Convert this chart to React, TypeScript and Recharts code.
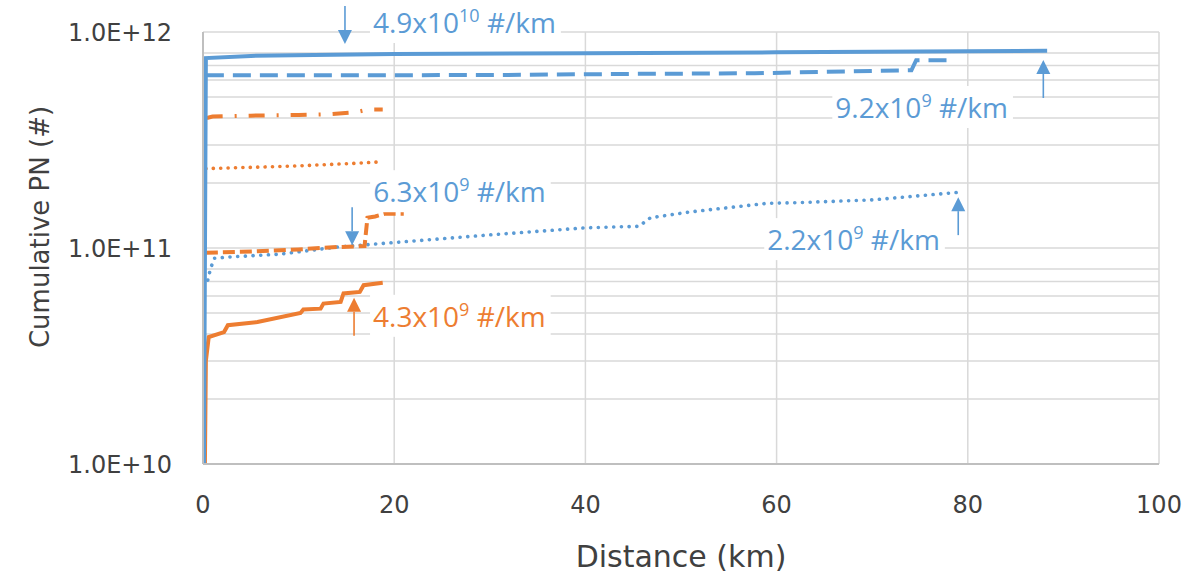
import React, { useLayoutEffect, useRef, useState } from "react";
import {
  LineChart,
  Line,
  XAxis,
  YAxis,
  CartesianGrid,
  ReferenceDot,
  Label,
} from "recharts";

// distance (km) and cumulative particle number
const blueSolidKm = [0.1, 0.3, 5, 20, 40, 60, 75, 88.3];
const blueSolidPN = [1e10, 7.57e11, 7.75e11, 7.9e11, 7.98e11, 8.05e11, 8.12e11, 8.19e11];

const blueDashedKm = [0.3, 10, 30, 45.6, 57.7, 62, 70, 74.1, 74.6, 78.5];
const blueDashedPN = [6.3e11, 6.3e11, 6.32e11, 6.4e11, 6.44e11, 6.5e11, 6.6e11, 6.65e11, 7.4e11, 7.4e11];

const blueDottedKm = [0.5, 0.8, 1.2, 3, 8, 14, 20, 30, 40, 45.6, 46.8, 51, 59, 62, 70, 79];
const blueDottedPN = [
  7.1e10, 8.07e10, 8.97e10, 9.1e10, 9.36e10, 1.01e11, 1.06e11, 1.15e11, 1.24e11,
  1.26e11, 1.38e11, 1.47e11, 1.61e11, 1.62e11, 1.67e11, 1.81e11,
];

const orangeDashDotKm = [0.4, 1, 5, 10, 13, 16, 17.3, 18.8];
const orangeDashDotPN = [4.0e11, 4.06e11, 4.1e11, 4.13e11, 4.16e11, 4.25e11, 4.38e11, 4.38e11];

const orangeDottedKm = [0.3, 3, 9, 15.4, 18.3];
const orangeDottedPN = [2.33e11, 2.35e11, 2.39e11, 2.46e11, 2.5e11];

const orangeDashedKm = [0.3, 4, 10, 14, 16.9, 17.2, 18, 19, 21];
const orangeDashedPN = [9.5e10, 9.6e10, 9.85e10, 1.01e11, 1.02e11, 1.38e11, 1.4e11, 1.44e11, 1.44e11];

const orangeSolidKm = [0.2, 0.3, 0.6, 2.2, 2.6, 5.7, 10.2, 10.5, 12.3, 12.6, 14.4, 14.7, 16.4, 16.8, 18.8];
const orangeSolidPN = [
  1e10, 3.0e10, 3.87e10, 4.08e10, 4.39e10, 4.54e10, 5.0e10, 5.19e10, 5.24e10,
  5.53e10, 5.63e10, 6.16e10, 6.26e10, 6.73e10, 6.9e10,
];

const xTicks = [0, 20, 40, 60, 80, 100];
const yTicks = [
  1e10, 2e10, 3e10, 4e10, 5e10, 6e10, 7e10, 8e10, 9e10,
  1e11, 2e11, 3e11, 4e11, 5e11, 6e11, 7e11, 8e11, 9e11, 1e12,
];

// emission factor call-outs: arrow tip position, text and arrow direction
const annKm = [14.85, 87.9, 15.6, 79.0, 15.8];
const annPN = [8.8e11, 7.42e11, 1.03e11, 1.72e11, 5.88e10];
const annMantissa = ["4.9x10", "9.2x10", "6.3x10", "2.2x10", "4.3x10"];
const annExponent = ["10", "9", "9", "9", "9"];
const annDir = ["down", "up", "down", "up", "up"];
const annSeries = ["blue", "blue", "blue", "blue", "orange"];

const BLUE = "#5B9BD5";
const ORANGE = "#ED7D31";
const GRID = "#d9d9d9";
const AXIS_TEXT = "#404040";
const AXIS_FONT = "'DejaVu Sans', sans-serif";
const ANN_FONT = "'Open Sans', sans-serif";

// offsets of the text box relative to the arrow tip
const annTextDx = [28, -208, 21, -191, 19];
const annTextDy = [-11, 58, -43, 53, 29];

const toPoints = (km: number[], pn: number[]) =>
  km.map((k, i) => ({ km: k, pn: pn[i] }));

function CallOut(props: any) {
  const { cx, cy, idx } = props;
  const textRef = useRef<SVGTextElement>(null);
  const [box, setBox] = useState<{ x: number; y: number; w: number; h: number } | null>(null);
  const color = annSeries[idx] === "orange" ? ORANGE : BLUE;
  const tx = cx + annTextDx[idx];
  const ty = cy + annTextDy[idx];

  useLayoutEffect(() => {
    if (textRef.current) {
      const b = textRef.current.getBBox();
      setBox({ x: b.x, y: b.y, w: b.width, h: b.height });
    }
  }, [cx, cy]);

  const down = annDir[idx] === "down";
  const shaft = 38;
  const head = 14;
  const tailY = down ? cy - shaft : cy + shaft;
  const baseY = down ? cy - head : cy + head;

  return (
    <g>
      {box && (
        <rect x={box.x - 3} y={box.y - 2} width={box.w + 8} height={box.h + 4} fill="#fff" />
      )}
      <text
        ref={textRef}
        x={tx}
        y={ty}
        fill={color}
        fontFamily={ANN_FONT}
        fontSize={28}
      >
        <tspan>{annMantissa[idx]}</tspan>
        <tspan dy={-11} fontSize={18}>{annExponent[idx]}</tspan>
        <tspan dy={11}>{" #/km"}</tspan>
      </text>
      <line x1={cx} x2={cx} y1={tailY} y2={baseY} stroke={color} strokeWidth={1.6} />
      <polygon
        points={`${cx},${cy} ${cx - 7},${baseY} ${cx + 7},${baseY}`}
        fill={color}
      />
    </g>
  );
}

const fmtY = (v: number) => {
  const e = Math.round(Math.log10(v));
  return Math.abs(v - Math.pow(10, e)) < 1 ? `1.0E+${e}` : "";
};

export default function App() {
  return (
    <div style={{ position: "absolute", left: 0, top: 0, background: "#fff" }}>
      <LineChart
        width={1199}
        height={574}
        margin={{ top: 32, right: 40, left: 0, bottom: 0 }}
      >
        <CartesianGrid stroke={GRID} strokeWidth={1.5} />
        <XAxis
          type="number"
          dataKey="km"
          domain={[0, 100]}
          ticks={xTicks}
          height={110}
          tickLine={false}
          tickSize={0}
          tickMargin={32}
          axisLine={{ stroke: "#bfbfbf", strokeWidth: 2 }}
          tick={{ fontSize: 24, fill: AXIS_TEXT, fontFamily: AXIS_FONT }}
          allowDataOverflow
        >
          <Label
            content={() => (
              <text
                x={681}
                y={567}
                textAnchor="middle"
                fontSize={30}
                fill={AXIS_TEXT}
                fontFamily={AXIS_FONT}
              >
                Distance (km)
              </text>
            )}
          />
        </XAxis>
        <YAxis
          type="number"
          dataKey="pn"
          scale="log"
          domain={[1e10, 1e12]}
          ticks={yTicks}
          tickFormatter={fmtY}
          width={203}
          tickLine={false}
          tickSize={0}
          tickMargin={31}
          axisLine={{ stroke: "#bfbfbf", strokeWidth: 2 }}
          tick={{ fontSize: 24, fill: AXIS_TEXT, fontFamily: AXIS_FONT }}
          allowDataOverflow
        >
          <Label
            content={() => (
              <text
                x={40}
                y={227}
                transform="rotate(-90, 40, 227)"
                textAnchor="middle"
                dominantBaseline="central"
                fontSize={26}
                fill={AXIS_TEXT}
                fontFamily={AXIS_FONT}
              >
                Cumulative PN (#)
              </text>
            )}
          />
        </YAxis>

        <Line
          data={toPoints(blueDashedKm, blueDashedPN)}
          dataKey="pn"
          type="linear"
          stroke={BLUE}
          strokeWidth={4}
          strokeDasharray="18 9"
          dot={false}
          activeDot={false}
          isAnimationActive={false}
        />
        <Line
          data={toPoints(blueDottedKm, blueDottedPN)}
          dataKey="pn"
          type="linear"
          stroke={BLUE}
          strokeWidth={3.6}
          strokeDasharray="0.1 7.6"
          strokeLinecap="round"
          dot={false}
          activeDot={false}
          isAnimationActive={false}
        />
        <Line
          data={toPoints(orangeDashDotKm, orangeDashDotPN)}
          dataKey="pn"
          type="linear"
          stroke={ORANGE}
          strokeWidth={4}
          strokeDasharray="16 12 2 12"
          dot={false}
          activeDot={false}
          isAnimationActive={false}
        />
        <Line
          data={toPoints(orangeDottedKm, orangeDottedPN)}
          dataKey="pn"
          type="linear"
          stroke={ORANGE}
          strokeWidth={3.6}
          strokeDasharray="0.1 7.3"
          strokeLinecap="round"
          dot={false}
          activeDot={false}
          isAnimationActive={false}
        />
        <Line
          data={toPoints(orangeDashedKm, orangeDashedPN)}
          dataKey="pn"
          type="linear"
          stroke={ORANGE}
          strokeWidth={4}
          strokeDasharray="12 5"
          dot={false}
          activeDot={false}
          isAnimationActive={false}
        />
        <Line
          data={toPoints(orangeSolidKm, orangeSolidPN)}
          dataKey="pn"
          type="linear"
          stroke={ORANGE}
          strokeWidth={4}
          dot={false}
          activeDot={false}
          isAnimationActive={false}
        />
        <Line
          data={toPoints(blueSolidKm, blueSolidPN)}
          dataKey="pn"
          type="linear"
          stroke={BLUE}
          strokeWidth={4}
          dot={false}
          activeDot={false}
          isAnimationActive={false}
        />

        {annKm.map((k, i) => (
          <ReferenceDot
            key={i}
            x={k}
            y={annPN[i]}
            r={0}
            ifOverflow="visible"
            shape={(p: any) => <CallOut {...p} idx={i} />}
          />
        ))}
      </LineChart>
    </div>
  );
}
